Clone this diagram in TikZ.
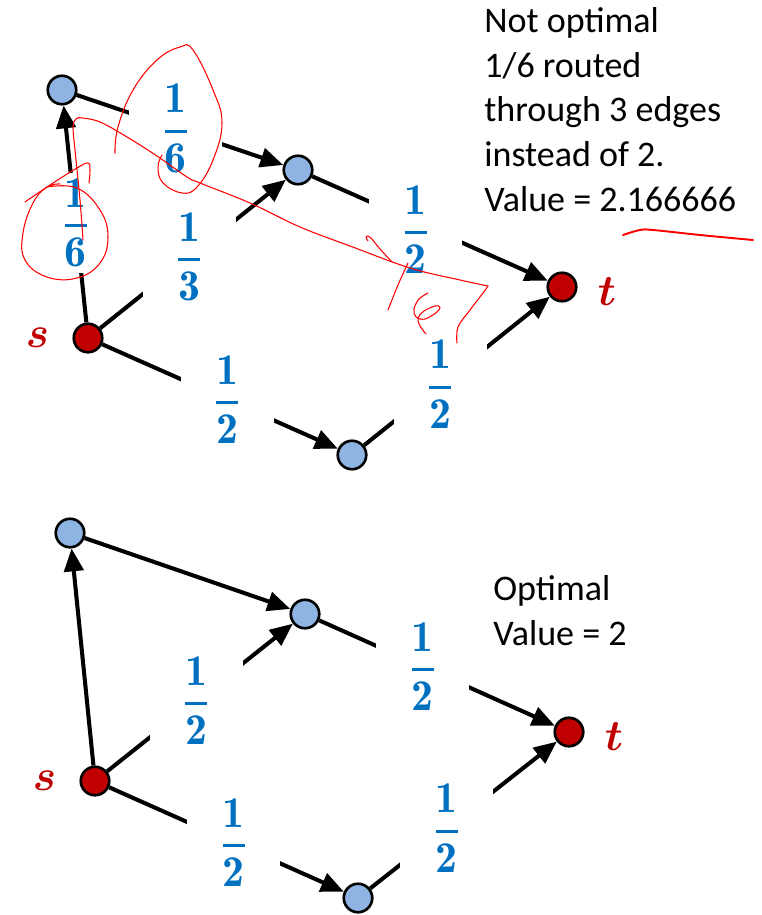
\documentclass[tikz,border=0pt]{standalone}
\usepackage{amsmath}
\usepackage{fontspec}
\usepackage{tikz}
\usetikzlibrary{
  arrows.meta,
  positioning
}
\newfontfamily\notefont{Carlito}
\definecolor{FlowBlue}{RGB}{0,112,192}
\definecolor{NodeBlue}{RGB}{142,180,227}
\definecolor{TermRed}{RGB}{192,0,0}
\definecolor{InkRed}{RGB}{255,0,0}
\newcommand{\wfrac}[2]{$\displaystyle\genfrac{}{}{1.7pt}{0}{\mathbf{#1}}{\mathbf{#2}}$}
\tikzset{
  vertex/.style={circle,draw=black,line width=1.5pt,fill=NodeBlue,minimum size=0.57cm,inner sep=0pt},
  terminal/.style={vertex,fill=TermRed},
  flow/.style={-{Triangle[length=13pt,width=11pt]},line width=2.3pt,draw=black},
  weight/.style={fill=white,text=FlowBlue,minimum width=1.86cm,minimum height=2cm,inner sep=0pt,font=\fontsize{25}{30}\selectfont},
  endname/.style={text=TermRed,inner sep=0pt,font=\fontsize{36}{42}\selectfont\boldmath},
  note/.style={align=left,anchor=north west,inner sep=0pt,font=\notefont\fontsize{20.5}{25.5}\selectfont},
  ink/.style={draw=InkRed,line width=0.6pt,line cap=round,line join=round}
}

\begin{document}
\begin{tikzpicture}[x=0.02cm,y=-0.02cm]
\useasboundingbox (0,0) rectangle (761,915);

% not optimal flow
\node[terminal] (s1) at (88,338) {};
\node[vertex] (a1) at (62,90) {};
\node[vertex] (b1) at (298,170) {};
\node[vertex] (c1) at (352,455) {};
\node[terminal] (t1) at (562,287) {};
\node[endname, left=4.6mm of s1] (s1name) {$s$};
\node[endname, right=4mm of t1, yshift=-1mm] (t1name) {$t$};

\draw[flow] (s1) -- node[weight, pos=.46] (w11) {\wfrac{1}{6}} (a1);
\draw[flow] (a1) -- node[weight, pos=.48] (w12) {\wfrac{1}{6}} (b1);
\draw[flow] (s1) -- node[weight, pos=.48] (w13) {\wfrac{1}{3}} (b1);
\draw[flow] (b1) -- node[weight, pos=.44, yshift=-1.5mm] (w14) {\wfrac{1}{2}} (t1);
\draw[flow] (s1) -- node[weight, pos=.53] (w15) {\wfrac{1}{2}} (c1);
\draw[flow] (c1) -- node[weight, pos=.41] (w16) {\wfrac{1}{2}} (t1);

\node[note] (note1) at (484,7) {Not optimal\\1/6 routed\\through 3 edges\\instead of 2.\\Value = 2.166666};

% optimal flow
\node[terminal] (s2) at (95,781) {};
\node[vertex] (a2) at (70,533) {};
\node[vertex] (b2) at (305,614) {};
\node[vertex] (c2) at (358,898) {};
\node[terminal] (t2) at (569,732) {};
\node[endname, left=4.6mm of s2] (s2name) {$s$};
\node[endname, right=4mm of t2, yshift=-1mm] (t2name) {$t$};

\draw[flow] (s2) -- (a2);
\draw[flow] (a2) -- (b2);
\draw[flow] (s2) -- node[weight, pos=.48] (w23) {\wfrac{1}{2}} (b2);
\draw[flow] (b2) -- node[weight, pos=.44] (w24) {\wfrac{1}{2}} (t2);
\draw[flow] (s2) -- node[weight, pos=.53] (w25) {\wfrac{1}{2}} (c2);
\draw[flow] (c2) -- node[weight, pos=.41] (w26) {\wfrac{1}{2}} (t2);

\node[note] (note2) at (493,575) {Optimal\\Value = 2};

% red ink
\draw[ink] plot[smooth,tension=.6] coordinates {(83,240) (80,200) (75,150) (73,127) (76,119) (82,118) (100,122) (127,137) (157,156) (187,177) (200,183) (250,203) (300,227) (350,246) (410,268) (460,280) (488,286)};
\draw[ink] plot[smooth,tension=.6] coordinates {(488,286) (483,293) (470,310) (458,327) (457,343)};
\draw[ink] plot[smooth,tension=.7] coordinates {(115,153) (118,127) (133,90) (157,60) (180,47) (193,50) (213,90) (222,123) (213,160) (197,187) (182,193) (163,183) (158,167) (162,155)};
\draw[ink] plot[smooth,tension=.6] coordinates {(25,202) (50,185) (77,168) (88,163) (90,170) (89,183)};
\draw[ink] plot[smooth,tension=.7] coordinates {(47,187) (77,188) (100,210) (108,237) (100,263) (77,278) (47,277) (25,260) (23,233) (33,203) (47,187) (60,184)};
\draw[ink] plot[smooth,tension=.6] coordinates {(368,241) (366,237) (370,237) (380,249) (392,262)};
\draw[ink] plot[smooth,tension=.6] coordinates {(408,263) (398,285) (388,310)};
\draw[ink] plot[smooth,tension=.6] coordinates {(428,293) (419,299) (414,309) (416,317) (425,319) (437,312) (440,307) (435,306) (424,311) (418,318) (420,326) (426,334)};
\draw[ink, line width=1.1pt] plot[smooth,tension=.6] coordinates {(623,235) (640,230) (653,230) (700,235) (753,240)};
\end{tikzpicture}
\end{document}
